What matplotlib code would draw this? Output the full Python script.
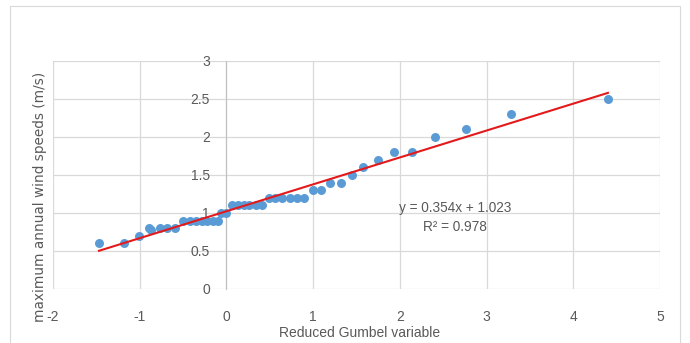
import numpy as np
import matplotlib
matplotlib.use('Agg')
import matplotlib.pyplot as plt
from matplotlib.patches import Rectangle

plt.rcParams['axes.unicode_minus'] = False

# reduced Gumbel variable vs maximum annual wind speed
gumbel_x = [-1.47, -1.18, -1.01, -0.89, -0.87, -0.77, -0.68, -0.59, -0.50, -0.42,
            -0.35, -0.28, -0.22, -0.15, -0.10, -0.06, -0.01, 0.06, 0.13, 0.20,
            0.265, 0.34, 0.41, 0.49, 0.565, 0.64, 0.73, 0.815, 0.90, 1.00,
            1.09, 1.20, 1.32, 1.45, 1.58, 1.75, 1.93, 2.14, 2.41, 2.76,
            3.28, 4.40]
wind_speed = [0.6, 0.6, 0.7, 0.8, 0.78, 0.8, 0.8, 0.8, 0.9, 0.9,
              0.9, 0.9, 0.9, 0.9, 0.9, 1.0, 1.0, 1.1, 1.1, 1.1,
              1.1, 1.1, 1.1, 1.2, 1.2, 1.2, 1.2, 1.2, 1.2, 1.3,
              1.3, 1.4, 1.4, 1.5, 1.6, 1.7, 1.8, 1.8, 2.0, 2.1,
              2.3, 2.5]

# trendline reported on the chart
slope = 0.354
intercept = 1.023
r2 = 0.978

xticks = [-2, -1, 0, 1, 2, 3, 4, 5]
yticks = [0, 0.5, 1, 1.5, 2, 2.5, 3]
yticklabels = ['0', '0.5', '1', '1.5', '2', '2.5', '3']

txt = '#595959'
grid = '#d9d9d9'
narrow = ['Liberation Sans', 'DejaVu Sans']

fig = plt.figure(figsize=(6.9, 3.43), dpi=100)
ax = fig.add_axes([53/690, 1-289/343, 607/690, 228/343])

# chart frame
fig.patches.append(Rectangle((10/690, -0.05), 670/690, 1-6/343+0.05, transform=fig.transFigure,
                             fill=False, edgecolor='#d9d9d9', lw=0.8))

ax.scatter(gumbel_x, wind_speed, s=42, color='#5b9bd5', zorder=3, linewidths=0)
xs = np.array([min(gumbel_x), max(gumbel_x)])
ax.plot(xs, slope*xs + intercept, color='#e31a1c', lw=1.5, zorder=4)

ax.set_xlim(-2, 5)
ax.set_ylim(0, 3)
ax.set_xticks(xticks)
ax.set_yticks(yticks)
ax.set_yticklabels(yticklabels)
ax.grid(True, color=grid, lw=0.9)
ax.set_axisbelow(True)
for s in ['top', 'right', 'bottom']:
    ax.spines[s].set_visible(False)
ax.spines['left'].set_position(('data', 0))
ax.spines['left'].set_color('#bfbfbf')
ax.tick_params(length=0, colors=txt)
ax.tick_params(axis='x', pad=15)
ax.tick_params(axis='y', pad=12)
for lab in ax.get_xticklabels() + ax.get_yticklabels():
    lab.set_family(narrow)
    lab.set_fontsize(10)

ax.text(2.64, 1.066, 'y = %.3fx + %.3f' % (slope, intercept), ha='center', va='center',
        color=txt, family=narrow, fontsize=9.8)
ax.text(2.63, 0.816, 'R\u00b2 = ' + str(r2), ha='center', va='center', color=txt,
        family=narrow, fontsize=9.8)

fig.text(360/690, 1-333/343, 'Reduced Gumbel variable', ha='center', va='center',
         color=txt, family=narrow, fontsize=10)
fig.text(40/690, 1-197/343, 'maximum annual wind speeds (m/s)', ha='center', va='center',
         rotation=90, color=txt, fontsize=9.8)

fig.savefig('out.png', dpi=100)
